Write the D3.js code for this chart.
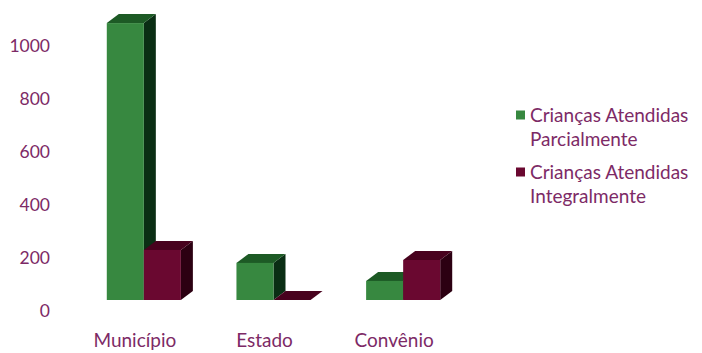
<!DOCTYPE html>
<html>
<head>
<meta charset="utf-8">
<script src="https://cdn.jsdelivr.net/npm/d3@7"></script>
<style>
  html, body { margin: 0; padding: 0; background: #ffffff; }
  svg text { font-family: Lato, "Open Sans", sans-serif; fill: #7d2a66; }
</style>
</head>
<body>
<svg id="chart" width="702" height="353"></svg>
<script>
// Categories and series
const categories = ["Município", "Estado", "Convênio"];
const seriesNames = ["Crianças Atendidas Parcialmente", "Crianças Atendidas Integralmente"];
const legendLines = [["Crianças Atendidas", "Parcialmente"], ["Crianças Atendidas", "Integralmente"]];
const parcial = [1045, 140, 72];
const integral = [189, 0, 151];
const yTicks = [0, 200, 400, 600, 800, 1000];

// Face shades per series: front, top, side
const shades = [
  { front: "#378840", top: "#1d5a25", side: "#0a2e14" },
  { front: "#6a0830", top: "#48021e", side: "#2c0012" }
];

const svg = d3.select("#chart");

const y = d3.scaleLinear().domain([0, 1000]).range([311, 46]);
const x0 = d3.scaleBand().domain(categories).range([79, 468])
  .paddingInner(0.4286).paddingOuter(0.2143);
const x1 = d3.scaleBand().domain([0, 1]).range([0, x0.bandwidth()]);

// Oblique depth of the columns and the drop of the front plane
const dx = 12, dy = -9, front = 11;

// Value axis labels
svg.append("g").selectAll("text").data(yTicks).join("text")
  .attr("x", 50).attr("y", d => y(d))
  .attr("dy", "0.35em")
  .attr("text-anchor", "end")
  .style("font-size", "17.5px")
  .text(d => d);

// Columns
const seriesData = [parcial, integral];
const g = svg.append("g");
categories.forEach((c, ci) => {
  seriesData.forEach((vals, si) => {
    const v = vals[ci];
    const xl = x0(c) + x1(si);
    const xr = xl + x1.bandwidth();
    const yb = y(0) - front;
    const yt = y(v) - front;
    const s = shades[si];
    // side face
    g.append("polygon")
      .attr("points", [[xr, yt], [xr + dx, yt + dy], [xr + dx, yb + dy], [xr, yb]].join(" "))
      .attr("fill", s.side);
    // top face
    g.append("polygon")
      .attr("points", [[xl, yt], [xl + dx, yt + dy], [xr + dx, yt + dy], [xr, yt]].join(" "))
      .attr("fill", s.top);
    // front face
    g.append("rect")
      .attr("x", xl).attr("y", yt)
      .attr("width", xr - xl).attr("height", yb - yt)
      .attr("fill", s.front);
  });
});

// Category labels
svg.append("g").selectAll("text").data(categories).join("text")
  .attr("x", d => x0(d) + x0.bandwidth() / 2 - 9)
  .attr("y", 347)
  .attr("text-anchor", "middle")
  .style("font-size", "19px")
  .text(d => d);

// Legend
const legend = svg.append("g");
const legendY = [115, 172];
seriesNames.forEach((name, i) => {
  legend.append("rect")
    .attr("x", 516).attr("y", legendY[i] - 4.5)
    .attr("width", 9).attr("height", 9)
    .attr("fill", shades[i].front);
  const t = legend.append("text")
    .attr("x", 530).attr("y", legendY[i])
    .style("font-size", "19px");
  legendLines[i].forEach((line, li) => {
    t.append("tspan").attr("x", 530).attr("dy", li === 0 ? "0.35em" : "1.3em").text(line);
  });
});
</script>
</body>
</html>
